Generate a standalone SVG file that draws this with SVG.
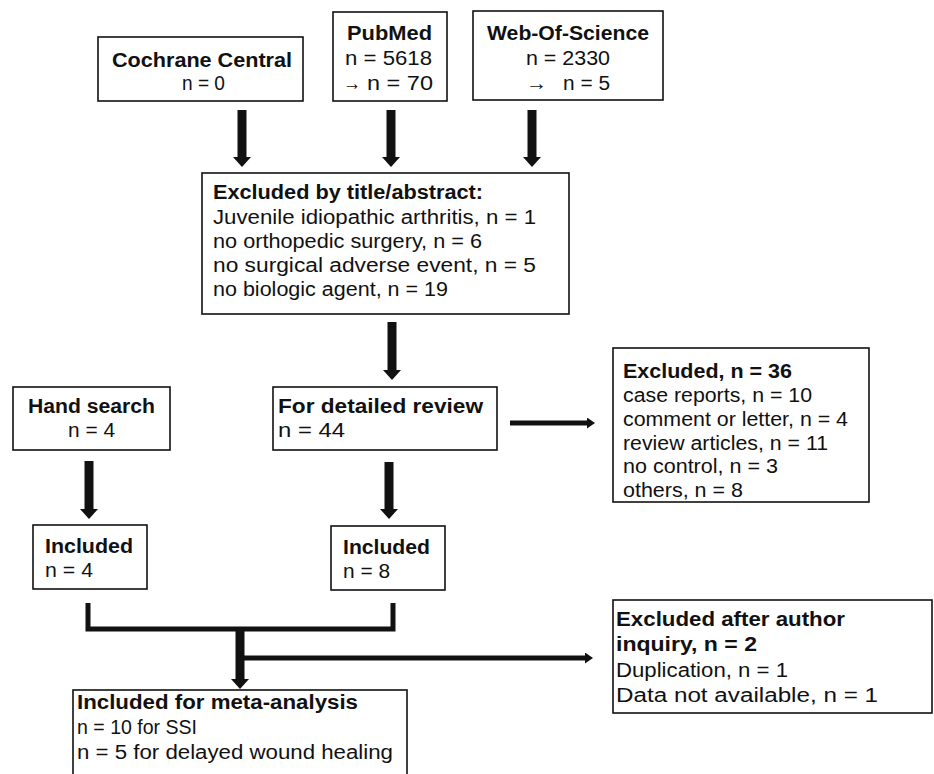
<svg xmlns="http://www.w3.org/2000/svg" width="934" height="774" viewBox="0 0 934 774">
<defs>
<style>
.box{fill:#fff;stroke:#111;stroke-width:1.6}
text{font-family:"Liberation Sans",Arial,sans-serif;font-size:20px;fill:#111}
.b{font-weight:bold}
.big{stroke:#111;stroke-width:9;fill:none}
.thin{stroke:#111;stroke-width:5;fill:none}
</style>
<marker id="hb" viewBox="0 0 10 18" markerWidth="10" markerHeight="18" refX="0" refY="9" orient="auto" markerUnits="userSpaceOnUse"><path d="M0,0 L10,9 L0,18 z" fill="#111"/></marker>
<marker id="hs" viewBox="0 0 8 11" markerWidth="8" markerHeight="11" refX="0" refY="5.5" orient="auto" markerUnits="userSpaceOnUse"><path d="M0,0 L8,5.5 L0,11 z" fill="#111"/></marker>
</defs>
<rect width="934" height="774" fill="#fff"/>
<g id="connectors">
<line class="big" x1="242" y1="110" x2="242" y2="157" marker-end="url(#hb)"/>
<line class="big" x1="391" y1="110" x2="391" y2="157" marker-end="url(#hb)"/>
<line class="big" x1="532" y1="110" x2="532" y2="157" marker-end="url(#hb)"/>
<line class="big" x1="392" y1="322" x2="392" y2="370" marker-end="url(#hb)"/>
<line class="big" x1="89" y1="461" x2="89" y2="509" marker-end="url(#hb)"/>
<line class="big" x1="389" y1="462" x2="389" y2="509" marker-end="url(#hb)"/>
<line class="thin" x1="510" y1="423" x2="587" y2="423" marker-end="url(#hs)"/>
<path class="thin" d="M88,603 V629 H393 V603"/>
<line class="big" x1="240" y1="627" x2="240" y2="679" marker-end="url(#hb)"/>
<line class="thin" x1="240" y1="658" x2="585" y2="658" marker-end="url(#hs)"/>
</g>
<g id="cochrane">
<rect class="box" x="98" y="37" width="205" height="64"/>
<text class="b" x="112" y="67" textLength="180" lengthAdjust="spacingAndGlyphs">Cochrane Central</text>
<text x="182" y="90" textLength="43" lengthAdjust="spacingAndGlyphs">n = 0</text>
</g>
<g id="pubmed">
<rect class="box" x="333" y="12" width="114" height="89"/>
<text class="b" x="347" y="40" textLength="85" lengthAdjust="spacingAndGlyphs">PubMed</text>
<text x="345" y="65" textLength="87" lengthAdjust="spacingAndGlyphs">n = 5618</text>
<text x="343" y="90" textLength="18" lengthAdjust="spacingAndGlyphs">→</text>
<text x="367" y="90" textLength="66" lengthAdjust="spacingAndGlyphs">n = 70</text>
</g>
<g id="wos">
<rect class="box" x="473" y="11" width="190" height="89"/>
<text class="b" x="487" y="40" textLength="162" lengthAdjust="spacingAndGlyphs">Web-Of-Science</text>
<text x="526" y="65" textLength="84" lengthAdjust="spacingAndGlyphs">n = 2330</text>
<text x="526" y="90" textLength="21" lengthAdjust="spacingAndGlyphs">→</text>
<text x="563" y="90" textLength="47" lengthAdjust="spacingAndGlyphs">n = 5</text>
</g>
<g id="excluded-title">
<rect class="box" x="202" y="173" width="367" height="141"/>
<text class="b" x="213" y="199" textLength="270" lengthAdjust="spacingAndGlyphs">Excluded by title/abstract:</text>
<text x="213" y="224" textLength="323" lengthAdjust="spacingAndGlyphs">Juvenile idiopathic arthritis, n = 1</text>
<text x="213" y="248" textLength="269" lengthAdjust="spacingAndGlyphs">no orthopedic surgery, n = 6</text>
<text x="213" y="272" textLength="323" lengthAdjust="spacingAndGlyphs">no surgical adverse event, n = 5</text>
<text x="213" y="296" textLength="235" lengthAdjust="spacingAndGlyphs">no biologic agent, n = 19</text>
</g>
<g id="hand-search">
<rect class="box" x="13" y="387" width="157" height="63"/>
<text class="b" x="28" y="413" textLength="127" lengthAdjust="spacingAndGlyphs">Hand search</text>
<text x="68" y="437" textLength="47" lengthAdjust="spacingAndGlyphs">n = 4</text>
</g>
<g id="detailed-review">
<rect class="box" x="273" y="387" width="224" height="63"/>
<text class="b" x="278" y="413" textLength="205" lengthAdjust="spacingAndGlyphs">For detailed review</text>
<text x="278" y="437" textLength="67" lengthAdjust="spacingAndGlyphs">n = 44</text>
</g>
<g id="excluded-36">
<rect class="box" x="613" y="348" width="256" height="154"/>
<text class="b" x="623" y="378" textLength="169" lengthAdjust="spacingAndGlyphs">Excluded, n = 36</text>
<text x="623" y="402" textLength="189" lengthAdjust="spacingAndGlyphs">case reports, n = 10</text>
<text x="623" y="426" textLength="225" lengthAdjust="spacingAndGlyphs">comment or letter, n = 4</text>
<text x="623" y="450" textLength="205" lengthAdjust="spacingAndGlyphs">review articles, n = 11</text>
<text x="623" y="473" textLength="155" lengthAdjust="spacingAndGlyphs">no control, n = 3</text>
<text x="623" y="497" textLength="120" lengthAdjust="spacingAndGlyphs">others, n = 8</text>
</g>
<g id="included-hand">
<rect class="box" x="33" y="525" width="114" height="64"/>
<text class="b" x="45" y="553" textLength="88" lengthAdjust="spacingAndGlyphs">Included</text>
<text x="45" y="577" textLength="48" lengthAdjust="spacingAndGlyphs">n = 4</text>
</g>
<g id="included-review">
<rect class="box" x="331" y="526" width="114" height="64"/>
<text class="b" x="343" y="554" textLength="87" lengthAdjust="spacingAndGlyphs">Included</text>
<text x="343" y="578" textLength="47" lengthAdjust="spacingAndGlyphs">n = 8</text>
</g>
<g id="excluded-author">
<rect class="box" x="613" y="600" width="319" height="113"/>
<text class="b" x="616" y="626" textLength="229" lengthAdjust="spacingAndGlyphs">Excluded after author</text>
<text class="b" x="616" y="651" textLength="141" lengthAdjust="spacingAndGlyphs">inquiry, n = 2</text>
<text x="616" y="677" textLength="172" lengthAdjust="spacingAndGlyphs">Duplication, n = 1</text>
<text x="616" y="702" textLength="262" lengthAdjust="spacingAndGlyphs">Data not available, n = 1</text>
</g>
<g id="meta-analysis">
<rect class="box" x="73" y="690" width="334" height="100"/>
<text class="b" x="77" y="709" textLength="281" lengthAdjust="spacingAndGlyphs">Included for meta-analysis</text>
<text x="77" y="734" textLength="120" lengthAdjust="spacingAndGlyphs">n = 10 for SSI</text>
<text x="77" y="759" textLength="316" lengthAdjust="spacingAndGlyphs">n = 5 for delayed wound healing</text>
</g>
</svg>
